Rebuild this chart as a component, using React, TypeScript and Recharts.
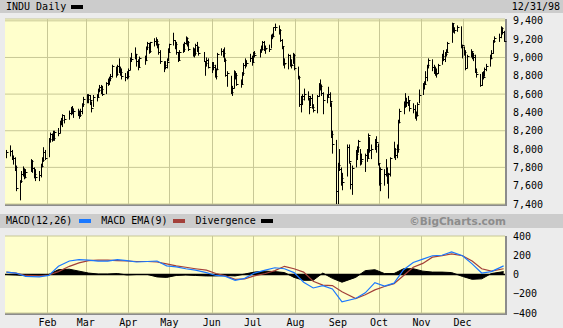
import { ComposedChart, Bar, Line, Area, XAxis, YAxis, CartesianGrid, ReferenceLine } from "recharts";

const MONTH_NAMES = ["Jan", "Feb", "Mar", "Apr", "May", "Jun", "Jul", "Aug", "Sep", "Oct", "Nov", "Dec"];
// day-of-year (Jan 1 = 0) where each month starts, Feb..Dec
const MONTH_STARTS = [31, 59, 90, 120, 151, 181, 212, 243, 273, 304, 334];
const PRICE_TICKS = [7400, 7600, 7800, 8000, 8200, 8400, 8600, 8800, 9000, 9200, 9400];
const MACD_TICKS = [-400, -200, 0, 200, 400];
const HOLIDAYS = ["1-1", "1-19", "2-16", "4-10", "5-25", "7-3", "9-7", "11-26", "12-25"];

// daily [high, low, close], one array per month
const jan = [
  [7990, 7900, 7965], [8040, 7920, 7978], [7990, 7880, 7906], [7930, 7830, 7903], [7910, 7760, 7802],
  [7820, 7540, 7580], [7660, 7440, 7647], [7760, 7630, 7733], [7810, 7700, 7784], [7790, 7670, 7691],
  [7780, 7680, 7753], [7890, 7750, 7873], [7880, 7740, 7794], [7800, 7680, 7730], [7780, 7650, 7700],
  [7760, 7650, 7712], [7840, 7690, 7815], [7910, 7800, 7879], [8020, 7860, 7973], [7990, 7880, 7907],
];
const feb = [
  [8120, 7910, 8107], [8180, 8070, 8160], [8170, 8080, 8129], [8200, 8090, 8118], [8200, 8090, 8190],
  [8230, 8140, 8180], [8310, 8170, 8295], [8340, 8260, 8314], [8380, 8240, 8370], [8370, 8280, 8323],
  [8420, 8320, 8399], [8460, 8370, 8451], [8470, 8380, 8412], [8440, 8340, 8413], [8440, 8360, 8410],
  [8420, 8330, 8371], [8440, 8350, 8414], [8500, 8380, 8490], [8570, 8460, 8546],
];
const mar = [
  [8600, 8500, 8550], [8600, 8500, 8585], [8590, 8480, 8539], [8520, 8400, 8444], [8590, 8460, 8569],
  [8600, 8520, 8567], [8660, 8560, 8643], [8700, 8620, 8676], [8700, 8600, 8659], [8690, 8580, 8602],
  [8730, 8600, 8718], [8770, 8690, 8749], [8790, 8700, 8776], [8820, 8740, 8803], [8920, 8780, 8906],
  [8900, 8780, 8816], [8920, 8800, 8904], [8990, 8830, 8872], [8900, 8800, 8846], [8880, 8760, 8796],
  [8830, 8740, 8782], [8850, 8760, 8800],
];
const apr = [
  [8880, 8770, 8868], [9000, 8860, 8987], [9050, 8950, 8983], [9110, 8980, 9033], [9040, 8900, 8957],
  [8980, 8860, 8892], [9010, 8890, 8994], [9020, 8920, 8976], [9120, 8960, 9111], [9170, 9080, 9162],
  [9160, 9040, 9076], [9170, 9050, 9167], [9210, 9120, 9184], [9220, 9130, 9176], [9200, 9100, 9143],
  [9150, 9030, 9064], [9080, 8930, 8963], [8960, 8840, 8917], [8960, 8870, 8899], [8990, 8880, 8951],
  [9100, 8960, 9063],
];
const may = [
  [9150, 9050, 9147], [9270, 9130, 9192], [9190, 9090, 9147], [9170, 9030, 9056], [9060, 8950, 8976],
  [9080, 8970, 9055], [9150, 9050, 9091], [9170, 9060, 9162], [9230, 9140, 9211], [9220, 9120, 9172],
  [9180, 9070, 9096], [9110, 9010, 9050], [9100, 9000, 9054], [9150, 9020, 9132], [9170, 9060, 9114],
  [9120, 9020, 9050], [9060, 8950, 8963], [8960, 8800, 8936], [9000, 8900, 8971], [8990, 8880, 8900],
];
const jun = [
  [8950, 8830, 8922], [8950, 8860, 8891], [8920, 8780, 8803], [8880, 8760, 8870], [9050, 8860, 9037],
  [9100, 9020, 9069], [9090, 9000, 9049], [9110, 8950, 8971], [8990, 8790, 8812], [8850, 8680, 8834],
  [8800, 8600, 8627], [8690, 8580, 8665], [8860, 8660, 8829], [8850, 8760, 8813], [8830, 8690, 8712],
  [8760, 8670, 8711], [8840, 8700, 8828], [8940, 8800, 8923], [8990, 8880, 8935], [8970, 8900, 8944],
  [9040, 8950, 8997], [9020, 8910, 8952],
];
const jul = [
  [9060, 8940, 9049], [9070, 9000, 9026], [9090, 9000, 9085], [9130, 9050, 9091], [9180, 9080, 9174],
  [9180, 9070, 9089], [9130, 9040, 9106], [9140, 9060, 9095], [9250, 9100, 9245], [9260, 9200, 9235],
  [9330, 9220, 9328], [9370, 9290, 9338], [9350, 9250, 9295], [9310, 9170, 9190], [9200, 9090, 9128],
  [9120, 8910, 8933], [8990, 8880, 8938], [9040, 8870, 9028], [9030, 8900, 8934], [8980, 8880, 8915],
  [9050, 8930, 9026], [9040, 8860, 8883],
];
const aug = [
  [8900, 8760, 8786], [8800, 8460, 8487], [8580, 8400, 8547], [8600, 8480, 8577], [8660, 8530, 8599],
  [8630, 8530, 8574], [8560, 8380, 8462], [8580, 8470, 8552], [8600, 8440, 8459], [8490, 8400, 8425],
  [8590, 8390, 8574], [8720, 8570, 8714], [8760, 8640, 8693], [8700, 8580, 8611], [8620, 8380, 8533],
  [8600, 8500, 8566], [8680, 8560, 8602], [8620, 8460, 8523], [8510, 8120, 8166], [8200, 7950, 8052],
  [8100, 7400, 7539],
];
const sep = [
  [7850, 7400, 7827], [8000, 7760, 7782], [7800, 7600, 7682], [7740, 7550, 7640], [8050, 7700, 8020],
  [8050, 7840, 7865], [7850, 7560, 7615], [7820, 7500, 7795], [7990, 7800, 7945], [8030, 7880, 8025],
  [8100, 7960, 8089], [8000, 7820, 7873], [7950, 7830, 7895], [7950, 7750, 7933], [8000, 7860, 7897],
  [8170, 7900, 8154], [8130, 7960, 7987], [8050, 7890, 8001], [8110, 7990, 8028], [8140, 7960, 8080],
  [8060, 7820, 7843],
];
const oct = [
  [7840, 7600, 7632], [7800, 7540, 7784], [7780, 7600, 7726], [7890, 7700, 7742], [7800, 7620, 7741],
  [7740, 7460, 7731], [7910, 7700, 7899], [8080, 7900, 8001], [8010, 7880, 7938], [8050, 7900, 8000],
  [8320, 7960, 8299], [8440, 8280, 8416], [8520, 8380, 8466], [8610, 8450, 8505], [8560, 8460, 8519],
  [8580, 8470, 8534], [8530, 8410, 8452], [8500, 8390, 8432], [8480, 8330, 8366], [8410, 8310, 8371],
  [8510, 8360, 8496], [8650, 8500, 8592],
];
const nov = [
  [8720, 8590, 8706], [8740, 8650, 8707], [8850, 8700, 8783], [8920, 8740, 8915], [8990, 8880, 8975],
  [8980, 8850, 8898], [8920, 8820, 8863], [8900, 8800, 8823], [8880, 8780, 8829], [8930, 8820, 8919],
  [9040, 8920, 9011], [9080, 8960, 8986], [9060, 8950, 9042], [9090, 9010, 9057], [9170, 9060, 9160],
  [9380, 9160, 9374], [9370, 9270, 9302], [9330, 9260, 9301], [9350, 9280, 9333], [9340, 9100, 9117],
];
const dec = [
  [9140, 8990, 9134], [9120, 9020, 9064], [9080, 8860, 8880], [9030, 8880, 9017], [9090, 9000, 9070],
  [9070, 8980, 9027], [9050, 8960, 9009], [9030, 8830, 8841], [8880, 8780, 8821], [8820, 8680, 8695],
  [8840, 8690, 8823], [8850, 8760, 8791], [8890, 8790, 8876], [8930, 8850, 8903], [9030, 8900, 8989],
  [9080, 8980, 9044], [9190, 9040, 9184], [9230, 9160, 9217], [9260, 9170, 9226], [9340, 9210, 9320],
  [9330, 9250, 9274], [9290, 9170, 9181],
];
const MONTHLY_HLC = [jan, feb, mar, apr, may, jun, jul, aug, sep, oct, nov, dec];

// MACD read every 5th trading day (last point = Dec 31)
const macdLine = [25, 15, -20, -25, -10, 85, 140, 155, 150, 140, 140, 155, 145, 130, 135, 140, 90, 80, 60, 45,
  20, -10, -20, -60, -40, 15, 45, 70, 60, 20, -80, -140, -115, -150, -285, -250, -190, -85, -120, -90,
  50, 125, 160, 195, 200, 235, 195, 110, 15, 30, 90];
const macdEma = [25, 15, -10, -15, -5, 30, 85, 120, 145, 150, 150, 145, 140, 135, 135, 130, 110, 90, 75, 60,
  45, 10, -15, -50, -45, -15, 10, 40, 85, 60, 25, -70, -110, -115, -180, -250, -210, -160, -125, -95,
  -10, 75, 115, 180, 195, 215, 195, 140, 60, 35, 60];
const divergence = [0, -5, -10, -10, 0, 50, 55, 35, 15, 5, 5, 10, -5, 0, 0, -25, -30, -10, -5, -10,
  -15, -15, -10, -15, 5, 25, 35, 30, 20, -30, -60, -60, 15, -40, -80, -30, 40, 50, 10, 10,
  60, 60, 35, 25, 25, 20, -20, -50, -45, 10, 30];

// trading days of 1998, grouped by month, as day-of-year
const daysByMonth: number[][] = MONTH_NAMES.map(() => []);
for (let d = 0; d < 365; d++) {
  const date = new Date(Date.UTC(1998, 0, 1 + d));
  const wd = date.getUTCDay();
  if (wd === 0 || wd === 6) continue;
  if (HOLIDAYS.includes(`${date.getUTCMonth() + 1}-${date.getUTCDate()}`)) continue;
  daysByMonth[date.getUTCMonth()].push(d);
}
const allDays = daysByMonth.flat();

const priceData = MONTHLY_HLC.flatMap((rows, m) =>
  rows.map(([high, low, close], i) => ({ day: daysByMonth[m][i], range: [low, high], high, low, close }))
);

const macdData = macdLine.map((v, i) => ({
  day: allDays[i === macdLine.length - 1 ? allDays.length - 1 : i * 5],
  macd: v,
  ema: macdEma[i],
  div: divergence[i],
}));

const MONO = "'DejaVu Sans Mono', monospace";
const GRID = "#c8c896";
const PLOT_BG = "#ffffcc";
const PLOT_LEFT = 5;
const PLOT_WIDTH = 500;
const tickStyle = { fontSize: 10, fill: "#000", fontFamily: MONO };

// month grid positions on the 0..365 day axis
const monthGridX = MONTH_STARTS.map((d) => Math.round(PLOT_LEFT + (d / 365) * PLOT_WIDTH));

function HlcBar(props: any) {
  const { x, y, width, height, payload } = props;
  if (!payload) return null;
  const cx = Math.round(x + width / 2) + 0.5;
  const top = Math.min(y, y + height);
  const h = Math.abs(height);
  const span = payload.high - payload.low || 1;
  const yc = Math.round(top + (h * (payload.high - payload.close)) / span) + 0.5;
  return (
    <g>
      <line x1={cx} x2={cx} y1={top} y2={top + h} stroke="#000" strokeWidth={1} />
      <line x1={cx} x2={cx + 2} y1={yc} y2={yc} stroke="#000" strokeWidth={1} />
    </g>
  );
}

function Swatch({ color, left = 6, right = 10 }: { color: string; left?: number; right?: number }) {
  return <span style={{ display: "inline-block", width: 12, height: 4, background: color, margin: `0 ${right}px 1px ${left}px`, verticalAlign: "middle" }} />;
}

// plot background with shadow and month lines, drawn under the transparent chart svg
function PlotBack({ top, height }: { top: number; height: number }) {
  return (
    <>
      <div style={{ position: "absolute", left: PLOT_LEFT, top, width: PLOT_WIDTH, height, background: PLOT_BG, borderRight: "2px solid #8c8c8c", borderBottom: "2px solid #8c8c8c" }} />
      {monthGridX.map((x) => (
        <div key={x} style={{ position: "absolute", left: x, top, width: 1, height, background: GRID }} />
      ))}
    </>
  );
}

export default function App() {
  return (
    <div style={{ position: "relative", width: 563, height: 328, background: "#ececec", overflow: "hidden", fontFamily: MONO, fontSize: 10 }}>
      <style>{"body{margin:0}"}</style>

      {/* title bar */}
      <div style={{ position: "absolute", left: 0, top: 0, width: 563, height: 13, background: "#cccccc", lineHeight: "13px" }}>
        <span style={{ position: "absolute", left: 6 }}>INDU Daily<Swatch color="#000" left={5} /></span>
        <span style={{ position: "absolute", right: 3 }}>12/31/98</span>
      </div>

      {/* price panel */}
      <PlotBack top={19} height={185} />
      <div style={{ position: "absolute", left: 0, top: 0 }}>
        <ComposedChart width={563} height={214} data={priceData} margin={{ top: 19, right: 0, bottom: 10, left: PLOT_LEFT }}>
          <CartesianGrid stroke={GRID} vertical={false} />
          <XAxis type="number" dataKey="day" domain={[0, 365]} ticks={MONTH_STARTS} height={0} tick={false} axisLine={false} tickLine={false} />
          <YAxis orientation="right" domain={[7400, 9420]} ticks={PRICE_TICKS} width={58} axisLine={false} tickLine={false} tickSize={0} tickMargin={8}
            tick={tickStyle} tickFormatter={(v: number) => v.toLocaleString("en-US")} allowDataOverflow />
          <Bar dataKey="range" barSize={2} shape={<HlcBar />} isAnimationActive={false} />
        </ComposedChart>
      </div>

      {/* MACD legend bar */}
      <div style={{ position: "absolute", left: 0, top: 214, width: 563, height: 14, background: "#cccccc", lineHeight: "14px" }}>
        <span style={{ position: "absolute", left: 6 }}>
          MACD(12,26)<Swatch color="#1a78ff" left={7} />MACD EMA(9)<Swatch color="#a3403a" left={6} />Divergence<Swatch color="#000" left={5} />
        </span>
        <span style={{ position: "absolute", right: 57, fontFamily: "'DejaVu Sans', sans-serif", fontWeight: "bold", fontSize: 10.5, color: "#8c8c8c" }}>©BigCharts.com</span>
      </div>

      {/* MACD panel */}
      <PlotBack top={236} height={77} />
      <div style={{ position: "absolute", left: 0, top: 228 }}>
        <ComposedChart width={563} height={100} data={macdData} margin={{ top: 8, right: 0, bottom: 0, left: PLOT_LEFT }}>
          <CartesianGrid stroke={GRID} vertical={false} />
          <XAxis type="number" dataKey="day" domain={[0, 365]} ticks={MONTH_STARTS} height={15} axisLine={false} tickLine={false} tickSize={0} tickMargin={6}
            tick={tickStyle} tickFormatter={(d: number) => MONTH_NAMES[MONTH_STARTS.indexOf(d) + 1]} />
          <YAxis orientation="right" domain={[-400, 400]} ticks={MACD_TICKS} width={58} axisLine={false} tickLine={false} tickSize={0} tickMargin={8}
            tick={tickStyle} tickFormatter={(v: number) => (v < 0 ? "\u2212" + Math.abs(v) : String(v))} />
          <Area type="linear" dataKey="div" stroke="#000" fill="#000" fillOpacity={1} strokeWidth={1} isAnimationActive={false} />
          <ReferenceLine y={0} stroke="#000" strokeWidth={1.5} />
          <Line type="linear" dataKey="ema" stroke="#a3403a" strokeWidth={1.2} dot={false} isAnimationActive={false} />
          <Line type="linear" dataKey="macd" stroke="#1a78ff" strokeWidth={1.2} dot={false} isAnimationActive={false} />
        </ComposedChart>
      </div>
    </div>
  );
}
